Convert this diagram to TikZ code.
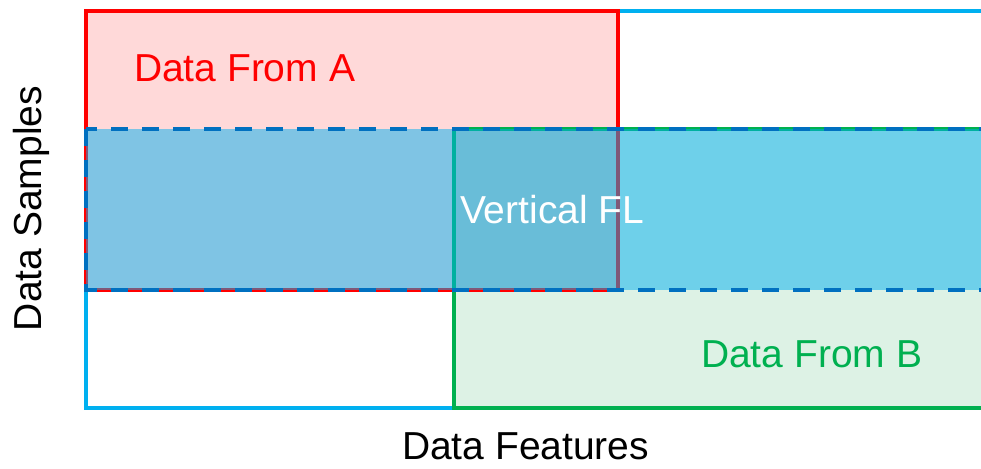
\documentclass[tikz,border=0pt]{standalone}
\usepackage{fontspec}
\setmainfont{Liberation Sans}
\usetikzlibrary{positioning}
\definecolor{dataRed}{HTML}{FF0000}
\definecolor{lightRed}{HTML}{FFD9D9}
\definecolor{dataGreen}{HTML}{00B050}
\definecolor{lightGreen}{HTML}{DDF2E5}
\definecolor{skyBlue}{HTML}{00B0F0}
\definecolor{dashBlue}{HTML}{0070C0}
\definecolor{overlapGray}{RGB}{212,204,192}

\begin{document}
\begin{tikzpicture}[x=1pt, y=-1pt, line width=4pt,
  every node/.style={font=\fontsize{39}{47}\selectfont, inner sep=0pt, anchor=base west}]
\useasboundingbox (0,0) rectangle (981,468);
\clip (0,0) rectangle (981,468);
% fills
\fill[lightRed] (86,11) rectangle (618,290);
\fill[lightGreen] (454,129) rectangle (1000,408);
\fill[overlapGray] (454,129) rectangle (618,290);
% outlines
\draw[skyBlue] (86,11) rectangle (1000,408);
\draw[dataRed] (86,11) rectangle (618,290);
\draw[dataGreen] (454,129) rectangle (1000,408);
% vertical FL band
\fill[skyBlue, opacity=0.5] (86,129) rectangle (1000,290);
\draw[dashBlue, dash pattern=on 17pt off 14pt] (86,129) rectangle (1000,290);
% labels
\node[text=dataRed] (fromA) at (132,82) {Data From A};
\node[text=white] (vfl) at (458,223) {Vertical FL};
\node[text=dataGreen] (fromB) at (699,367) {Data From B};
\node (features) at (400,459) {Data Features};
\node[rotate=90] (samples) at (41,333) {Data Samples};
\end{tikzpicture}
\end{document}
